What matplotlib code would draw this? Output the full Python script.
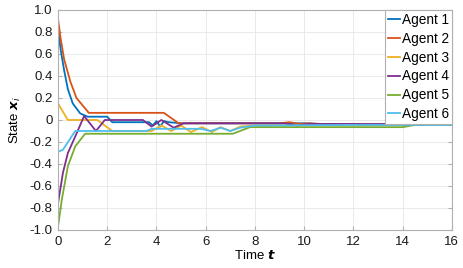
import matplotlib
matplotlib.use("Agg")
import matplotlib.pyplot as plt
from matplotlib.ticker import FuncFormatter

plt.rcParams['font.family'] = ['Liberation Sans', 'DejaVu Sans']
plt.rcParams['mathtext.fontset'] = 'dejavusans'

labels = ["Agent 1", "Agent 2", "Agent 3", "Agent 4", "Agent 5", "Agent 6"]
colors = ["#0072BD", "#D95319", "#EDB120", "#7E2F8E", "#77AC30", "#4DBEEE"]

t1 = [0, 0.1, 0.25, 0.4, 0.6, 0.9, 1.2, 2.0, 2.2, 3.7, 3.85, 4.0, 4.15, 4.3, 4.5, 5.0, 8, 10, 11, 16]
x1 = [0.83, 0.65, 0.45, 0.28, 0.15, 0.06, 0.03, 0.03, -0.02, -0.02, -0.05, -0.01, -0.06, -0.01, -0.02, -0.03, -0.03, -0.03, -0.04, -0.04]

t2 = [0, 0.1, 0.25, 0.5, 0.75, 1.25, 4.3, 4.9, 9.0, 9.4, 9.8, 10.2, 11, 16]
x2 = [0.92, 0.75, 0.55, 0.35, 0.2, 0.065, 0.065, -0.03, -0.03, -0.02, -0.035, -0.03, -0.04, -0.04]

t3 = [0, 0.4, 1.6, 2.2, 3.8, 4.2, 4.6, 5.0, 5.4, 5.85, 6.25, 6.6, 7.0, 7.4, 8, 16]
x3 = [0.15, 0.0, 0.0, -0.1, -0.1, -0.05, -0.1, -0.05, -0.11, -0.065, -0.11, -0.065, -0.1, -0.06, -0.05, -0.04]

t4 = [0, 0.2, 0.4, 0.7, 1.06, 1.54, 1.9, 3.45, 3.8, 4.2, 4.7, 5.1, 9.2, 9.7, 10.2, 16]
x4 = [-0.76, -0.48, -0.3, -0.15, 0.036, -0.1, 0.0, 0.0, -0.06, 0.0, -0.07, -0.03, -0.03, -0.05, -0.035, -0.04]

t5 = [0, 0.15, 0.4, 0.7, 1.1, 7.1, 7.8, 14.0, 14.5, 16]
x5 = [-0.97, -0.73, -0.42, -0.24, -0.125, -0.125, -0.065, -0.065, -0.045, -0.045]

t6 = [0, 0.2, 0.7, 3.6, 3.8, 5.8, 6.2, 6.6, 7.0, 7.4, 8.0, 12, 16]
x6 = [-0.29, -0.27, -0.1, -0.1, -0.08, -0.08, -0.1, -0.07, -0.1, -0.07, -0.05, -0.045, -0.045]

times = [t1, t2, t3, t4, t5, t6]
states = [x1, x2, x3, x4, x5, x6]

xticks = [0, 2, 4, 6, 8, 10, 12, 14, 16]
yticks = [1.0, 0.8, 0.6, 0.4, 0.2, 0, -0.2, -0.4, -0.6, -0.8, -1.0]

fig = plt.figure(figsize=(4.63, 2.68), dpi=100)
ax = fig.add_axes([0.1253, 0.1418, 0.8507, 0.8209])

for t, x, c, l in zip(times, states, colors, labels):
    ax.plot(t, x, color=c, lw=1.3, label=l)

ax.set_xlim(0, 16)
ax.set_ylim(-1, 1)
ax.set_xticks(xticks)
ax.set_yticks(yticks)
ax.yaxis.set_major_formatter(FuncFormatter(lambda v, p: "0" if abs(v) < 1e-9 else f"{v:.1f}"))
ax.grid(True, color="#e6e6e6", lw=0.6)
ax.set_axisbelow(True)
for s in ax.spines.values():
    s.set_color("#b0b0b0")
    s.set_linewidth(0.8)
ax.tick_params(direction="in", length=3, color="#b0b0b0", labelsize=9.5, labelcolor="#1a1a1a",
               top=False, right=True, pad=4)
ax.set_xlabel(r"Time $\boldsymbol{t}$", fontsize=9.5, labelpad=1)
ax.set_ylabel(r"State $\boldsymbol{x}_i$", fontsize=9.5, labelpad=5)

leg = ax.legend(loc="upper right", fontsize=9.8, handlelength=0.9, handletextpad=0.15,
                borderpad=0.2, labelspacing=0.36, fancybox=False, framealpha=1,
                borderaxespad=0.0)
leg.get_frame().set_edgecolor("#b0b0b0")
leg.get_frame().set_linewidth(0.8)

fig.savefig("out.png", dpi=100)
